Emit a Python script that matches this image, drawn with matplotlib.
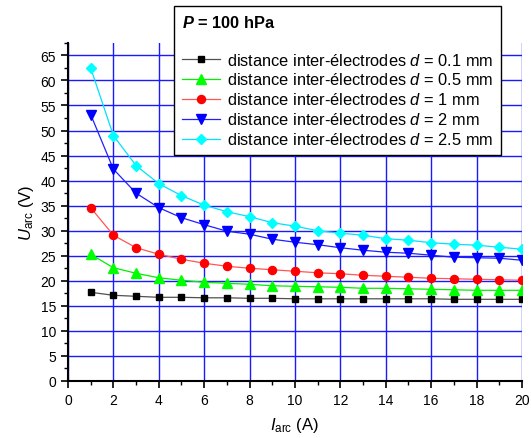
import matplotlib
matplotlib.use('Agg')
import matplotlib.pyplot as plt
from matplotlib.ticker import MultipleLocator

plt.rcParams['font.family'] = ['Liberation Sans', 'DejaVu Sans']
plt.rcParams['mathtext.fontset'] = 'custom'
plt.rcParams['mathtext.rm'] = 'Liberation Sans'
plt.rcParams['mathtext.it'] = 'Liberation Sans:italic'
plt.rcParams['mathtext.bf'] = 'Liberation Sans:bold'
plt.rcParams['mathtext.bfit'] = 'Liberation Sans:bold:italic'

# arc current (A)
current = list(range(1, 21))

# arc voltage (V) for each inter-electrode distance
u_01 = [17.7, 17.1, 16.9, 16.7, 16.7, 16.6, 16.6, 16.5, 16.5, 16.4,
        16.4, 16.4, 16.4, 16.4, 16.4, 16.4, 16.3, 16.3, 16.3, 16.3]
u_05 = [25.3, 22.6, 21.5, 20.6, 20.1, 19.7, 19.5, 19.3, 19.0, 18.9,
        18.8, 18.7, 18.5, 18.5, 18.4, 18.3, 18.2, 18.1, 18.1, 18.1]
u_1 = [34.6, 29.1, 26.6, 25.3, 24.3, 23.5, 22.9, 22.5, 22.2, 21.9,
       21.6, 21.4, 21.1, 20.9, 20.7, 20.5, 20.4, 20.3, 20.2, 20.1]
u_2 = [53.2, 42.3, 37.5, 34.6, 32.6, 31.2, 29.9, 29.3, 28.3, 27.7,
       27.2, 26.6, 26.1, 25.7, 25.5, 25.1, 24.7, 24.6, 24.5, 24.1]
u_25 = [62.5, 49.0, 43.0, 39.4, 37.0, 35.1, 33.8, 32.8, 31.6, 30.9,
        30.0, 29.5, 29.1, 28.4, 28.1, 27.6, 27.3, 27.1, 26.7, 26.3]

labels = ['0.1', '0.5', '1', '2', '2.5']

fig = plt.figure(figsize=(5.31, 4.39), dpi=100)
ax = fig.add_axes([0.128, 0.130, 0.855, 0.770])

# values, marker, marker colour, line colour, marker size
series = [(u_01, 's', 'black', '#505050', 5.0),
          (u_05, '^', '#00ff00', '#00ee00', 6.5),
          (u_1, 'o', '#ff0000', '#ff5555', 5.8),
          (u_2, 'v', '#0000ff', '#2020ff', 6.5),
          (u_25, 'D', '#00ffff', '#00e0ff', 4.6)]

for (vals, mk, mc, lc, ms), lab in zip(series, labels):
    ax.plot(current, vals, color=lc, lw=0.9, marker=mk, markersize=ms,
            markerfacecolor=mc, markeredgecolor=mc,
            label='distance inter-électrodes $\\it{d}$ = %s mm' % lab, zorder=3)

ax.set_xlim(0, 20)
ax.set_ylim(0, 67.5)
ax.xaxis.set_major_locator(MultipleLocator(2))
ax.xaxis.set_minor_locator(MultipleLocator(1))
ax.yaxis.set_major_locator(MultipleLocator(5))
ax.yaxis.set_minor_locator(MultipleLocator(2.5))
ax.grid(True, which='major', color='#1a1aff', lw=1.0, zorder=0)
ax.set_axisbelow(True)

for s in ['top', 'right']:
    ax.spines[s].set_visible(False)
for s in ['left', 'bottom']:
    ax.spines[s].set_linewidth(1.5)
ax.tick_params(which='major', direction='out', length=5, width=1.2, labelsize=10)
ax.tick_params(which='minor', direction='out', length=3, width=1.0)

ax.set_xlabel('$\\it{I}_{\\rm{arc}}$ (A)', fontsize=12, labelpad=6)
ax.set_ylabel('$\\it{U}_{\\rm{arc}}$ (V)', fontsize=12, labelpad=3)

leg = ax.legend(loc='upper left', bbox_to_anchor=(0.328, 0.984),
                bbox_transform=fig.transFigure, fontsize=11.8,
                title='$\\mathbfit{P}$ = 100 hPa\n', title_fontsize=11.8,
                alignment='left', frameon=True, fancybox=False,
                edgecolor='black', framealpha=1, handlelength=2.3,
                handletextpad=0.4, labelspacing=0.24, borderpad=0.5,
                borderaxespad=0)
leg.get_title().set_fontweight('bold')
leg.get_frame().set_linewidth(1.0)
leg.set_zorder(5)

fig.savefig('out.png', dpi=100)
